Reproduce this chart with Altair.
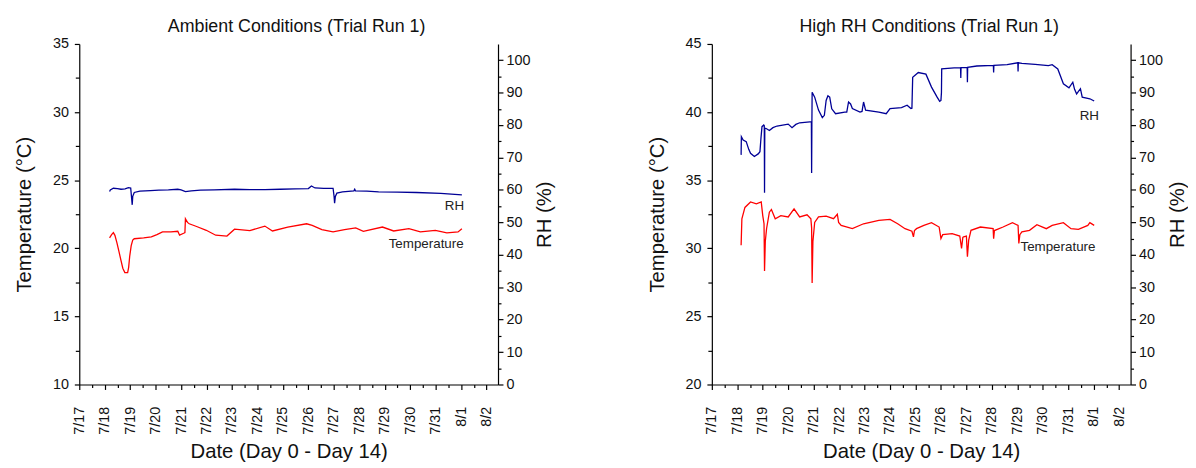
import altair as alt
import pandas as pd

FONT = "Liberation Sans"
BLUE = "#000096"
RED = "#FF0000"

# ---- axis tick values / labels ----
DAY_LABELS = ["7/17", "7/18", "7/19", "7/20", "7/21", "7/22", "7/23", "7/24", "7/25",
              "7/26", "7/27", "7/28", "7/29", "7/30", "7/31", "8/1", "8/2"]
MAJOR_DAYS = [0, 1, 2, 3, 4, 5, 6, 7, 8, 9, 10, 11, 12, 13, 14, 15, 16]
MINOR_DAYS = [0.5, 1.5, 2.5, 3.5, 4.5, 5.5, 6.5, 7.5, 8.5, 9.5, 10.5, 11.5, 12.5, 13.5, 14.5, 15.5]
X_DOMAIN = [0, 16.45]

RH_DOMAIN = [0, 105]
RH_MAJOR = [0, 10, 20, 30, 40, 50, 60, 70, 80, 90, 100]
RH_MINOR = [5, 15, 25, 35, 45, 55, 65, 75, 85, 95]

AMB_T_DOMAIN = [10, 35]
AMB_T_MAJOR = [10, 15, 20, 25, 30, 35]
AMB_T_MINOR = [12.5, 17.5, 22.5, 27.5, 32.5]

HI_T_DOMAIN = [20, 45]
HI_T_MAJOR = [20, 25, 30, 35, 40, 45]
HI_T_MINOR = [22.5, 27.5, 32.5, 37.5, 42.5]

# ---- Ambient conditions (days after 7/17 00:00) ----
amb_rh_day = [1.19, 1.22, 1.34, 1.5, 1.64, 1.8, 1.93, 2.02, 2.05, 2.08, 2.1, 2.16, 2.38, 2.8,
              3.13, 3.5, 3.87, 4.0, 4.17, 4.4, 4.76, 5.3, 6.1, 6.7, 7.29, 7.9, 8.48, 9.0, 9.12,
              9.26, 9.6, 9.97, 10.01, 10.03, 10.06, 10.12, 10.34, 10.79, 10.82, 10.85, 11.3,
              11.76, 12.5, 13.25, 14.2, 15.03]
amb_rh_val = [59.5, 60.0, 60.5, 60.4, 60.2, 60.3, 60.7, 60.6, 58.0, 55.4, 58.0, 59.2, 59.6, 59.8,
              59.9, 60.0, 60.2, 60.0, 59.5, 59.7, 59.9, 60.0, 60.2, 60.1, 60.1, 60.2, 60.3, 60.4, 61.2,
              60.6, 60.5, 60.5, 58.0, 55.9, 58.0, 59.0, 59.4, 59.7, 60.2, 59.7, 59.6,
              59.4, 59.3, 59.2, 58.9, 58.5]

amb_t_day = [1.19, 1.27, 1.34, 1.4, 1.48, 1.56, 1.64, 1.71, 1.79, 1.9, 1.94, 1.98, 2.04, 2.1, 2.16,
             2.53, 2.83, 3.05, 3.27, 3.6, 3.87, 3.94, 4.1, 4.15, 4.17, 4.25, 4.32, 4.61, 4.99, 5.36,
             5.8, 6.1, 6.7, 7.29, 7.59, 8.19, 8.93, 9.15, 9.53, 9.97, 10.42, 10.86, 11.16, 11.91,
             12.35, 12.95, 13.4, 13.99, 14.44, 14.88, 15.03]
amb_t_val = [20.76, 21.0, 21.15, 20.95, 20.4, 19.75, 19.1, 18.54, 18.22, 18.22, 18.6, 19.4, 20.2, 20.6, 20.7,
             20.76, 20.84, 21.0, 21.2, 21.2, 21.25, 20.96, 21.1, 21.15, 22.17, 21.9, 21.8, 21.6, 21.32, 20.96,
             20.9, 21.4, 21.3, 21.63, 21.27, 21.56, 21.8, 21.68, 21.37, 21.2, 21.37, 21.49, 21.25, 21.56,
             21.27, 21.44, 21.2, 21.32, 21.13, 21.2, 21.44]

# ---- High RH conditions ----
hi_rh_day = [1.15, 1.16, 1.23, 1.35, 1.45, 1.52, 1.67, 1.82, 1.89, 1.93, 1.97, 2.04, 2.06, 2.07, 2.08,
             2.12, 2.26, 2.4, 2.56, 3.0, 3.15, 3.3, 3.45, 3.85, 3.91, 3.92, 3.93, 3.94, 4.04, 4.19,
             4.34, 4.42, 4.49, 4.56, 4.63, 4.71, 4.86, 5.22, 5.3, 5.37, 5.45, 5.52, 5.82, 5.9, 5.96,
             6.04, 6.56, 6.85, 7.0, 7.45, 7.67, 7.82, 7.86, 7.89, 8.11, 8.41, 8.63, 8.85, 8.95, 9.0,
             9.02, 9.03, 9.52, 9.77, 9.78, 9.79, 10.03, 10.04, 10.05, 10.41, 11.06, 11.07, 11.08,
             11.6, 12.02, 12.03, 12.04, 12.18, 12.7, 13.22, 13.37, 13.59, 13.81, 14.03, 14.18, 14.25,
             14.33, 14.48, 14.55, 14.85, 15.02]
hi_rh_val = [70.8, 76.4, 75.4, 74.9, 72.5, 71.3, 70.3, 71.1, 71.8, 76.0, 79.5, 80.0, 79.8, 59.1, 79.0,
             79.0, 78.3, 79.2, 79.7, 80.3, 79.2, 80.2, 80.7, 81.0, 81.0, 65.2, 80.0, 90.1, 88.6, 84.6,
             82.3, 83.0, 87.6, 89.0, 88.6, 85.0, 83.5, 84.0, 84.0, 87.1, 86.5, 85.1, 84.0, 84.2, 87.1,
             84.6, 84.0, 83.5, 85.1, 85.4, 86.1, 85.1, 85.2, 94.7, 96.2, 95.7, 91.7, 88.6, 87.3, 87.6,
             90.0, 97.3, 97.6, 97.7, 94.5, 97.7, 97.8, 93.2, 97.8, 98.2, 98.4, 96.2, 98.4,
             98.6, 99.2, 96.5, 99.2, 99.0, 98.7, 98.3, 98.6, 97.3, 92.7, 91.5, 93.2, 91.0,
             89.6, 91.2, 88.6, 88.1, 87.4]

hi_t_day = [1.15, 1.18, 1.3, 1.52, 1.75, 1.94, 2.0, 2.05, 2.07, 2.1, 2.15, 2.26, 2.34, 2.49, 2.71,
            3.0, 3.23, 3.45, 3.74, 3.89, 3.92, 3.94, 3.97, 4.04, 4.19, 4.49, 4.78, 4.93, 4.98, 5.08,
            5.52, 5.96, 6.56, 7.0, 7.3, 7.59, 7.86, 7.92, 7.96, 8.04, 8.33, 8.63, 8.93, 9.0, 9.07,
            9.44, 9.74, 9.81, 9.86, 9.89, 10.0, 10.04, 10.09, 10.18, 10.55, 11.05, 11.07, 11.1,
            11.44, 11.81, 12.03, 12.06, 12.1, 12.18, 12.48, 12.77, 13.14, 13.37, 13.81, 14.11,
            14.4, 14.77, 14.85, 15.02]
hi_t_val = [30.23, 32.17, 33.0, 33.4, 33.26, 33.4, 32.4, 31.8, 28.34, 30.5, 31.44, 32.65, 32.85, 32.17, 32.4,
            32.3, 32.9, 32.3, 32.46, 32.17, 31.5, 27.45, 30.5, 31.9, 32.3, 32.36, 32.17, 32.5, 31.9, 31.68,
            31.44, 31.8, 32.05, 32.12, 31.8, 31.44, 31.25, 30.84, 31.3, 31.44, 31.68, 31.88, 31.56, 30.71, 31.0,
            31.08, 30.9, 29.99, 30.8, 30.84, 30.9, 29.38, 30.6, 31.32, 31.56, 31.44, 30.71, 31.3,
            31.56, 31.88, 31.68, 30.35, 31.0, 31.2, 31.32, 31.73, 31.44, 31.68, 31.88, 31.44,
            31.39, 31.68, 31.88, 31.68]

# ---- series annotations ----
amb_rh_label = {"day": [15.12], "value": [55.1], "label": ["RH"]}
amb_t_label = {"day": [15.1], "value": [20.33], "label": ["Temperature"]}
hi_rh_label = {"day": [15.21], "value": [82.8], "label": ["RH"]}
hi_t_label = {"day": [15.07], "value": [30.08], "label": ["Temperature"]}

LABEL_EXPR = "[" + ",".join("'" + s + "'" for s in DAY_LABELS) + "][round(datum.value)]"


def panel(title, t_day, t_val, rh_day, rh_val, t_domain, t_major, t_minor, rh_lab, t_lab):
    xs = alt.Scale(domain=X_DOMAIN, nice=False, zero=False)
    ts = alt.Scale(domain=t_domain, nice=False, zero=False)
    rs = alt.Scale(domain=RH_DOMAIN, nice=False, zero=False)
    tdf = pd.DataFrame({"day": t_day, "value": t_val})
    rdf = pd.DataFrame({"day": rh_day, "value": rh_val})

    temp_line = alt.Chart(tdf).mark_line(color=RED, strokeWidth=1.3).encode(
        x=alt.X("day:Q", scale=xs, axis=alt.Axis(
            values=MAJOR_DAYS, labelExpr=LABEL_EXPR, labelAngle=270, orient="bottom",
            tickSize=5, labelPadding=17, title="Date (Day 0 - Day 14)", titlePadding=8, grid=False)),
        y=alt.Y("value:Q", scale=ts, axis=alt.Axis(
            values=t_major, orient="left", tickSize=5, labelPadding=6,
            title="Temperature (°C)", titlePadding=18, grid=False)),
    )
    rh_line = alt.Chart(rdf).mark_line(color=BLUE, strokeWidth=1.3).encode(
        x=alt.X("day:Q", scale=xs, axis=None),
        y=alt.Y("value:Q", scale=rs, axis=alt.Axis(
            values=RH_MAJOR, orient="right", tickSize=5, labelPadding=3,
            title="RH (%)", titleAngle=270, titleBaseline="top", titlePadding=5, grid=False)),
    )
    minor_t = alt.Chart(tdf).mark_line(opacity=0).encode(
        x=alt.X("day:Q", scale=xs, axis=alt.Axis(
            values=MINOR_DAYS, labels=False, domain=False, tickSize=3, orient="bottom",
            title=None, grid=False)),
        y=alt.Y("value:Q", scale=ts, axis=alt.Axis(
            values=t_minor, labels=False, domain=False, tickSize=4, orient="left",
            title=None, grid=False)),
    )
    minor_rh = alt.Chart(rdf).mark_line(opacity=0).encode(
        x=alt.X("day:Q", scale=xs, axis=None),
        y=alt.Y("value:Q", scale=rs, axis=alt.Axis(
            values=RH_MINOR, labels=False, domain=False, tickSize=3, orient="right",
            title=None, grid=False)),
    )
    rh_text = alt.Chart(pd.DataFrame(rh_lab)).mark_text(
        align="right", baseline="middle", font=FONT, fontSize=13.5, color="#222222").encode(
        x=alt.X("day:Q", scale=xs, axis=None),
        y=alt.Y("value:Q", scale=rs, axis=None),
        text="label:N",
    )
    t_text = alt.Chart(pd.DataFrame(t_lab)).mark_text(
        align="right", baseline="middle", font=FONT, fontSize=13.5, color="#222222").encode(
        x=alt.X("day:Q", scale=xs, axis=None),
        y=alt.Y("value:Q", scale=ts, axis=None),
        text="label:N",
    )
    return alt.layer(temp_line, rh_line, minor_t, minor_rh, rh_text, t_text).resolve_scale(
        y="independent").resolve_axis(x="independent", y="independent").properties(
        width=423, height=344,
        title=alt.TitleParams(title, font=FONT, fontSize=18, fontWeight="normal",
                              color="#111111", offset=0, dx=8))


left = panel("Ambient Conditions (Trial Run 1)", amb_t_day, amb_t_val, amb_rh_day, amb_rh_val,
             AMB_T_DOMAIN, AMB_T_MAJOR, AMB_T_MINOR, amb_rh_label, amb_t_label)
right = panel("High RH Conditions (Trial Run 1)", hi_t_day, hi_t_val, hi_rh_day, hi_rh_val,
              HI_T_DOMAIN, HI_T_MAJOR, HI_T_MINOR, hi_rh_label, hi_t_label)

chart = alt.hconcat(
    left, right, spacing=92, background="white",
    padding={"left": 6, "top": 8, "right": 0, "bottom": 0},
).configure_view(stroke=None).configure_axis(
    labelFont=FONT, titleFont=FONT, labelFontSize=14.5, titleFontSize=20.5,
    titleFontWeight="normal", labelColor="#111111", titleColor="#111111",
    domainColor="#000000", tickColor="#000000", domainWidth=1.2, tickWidth=1.2,
)

chart.save("out.html", embed_options={"renderer": "svg", "actions": False})
